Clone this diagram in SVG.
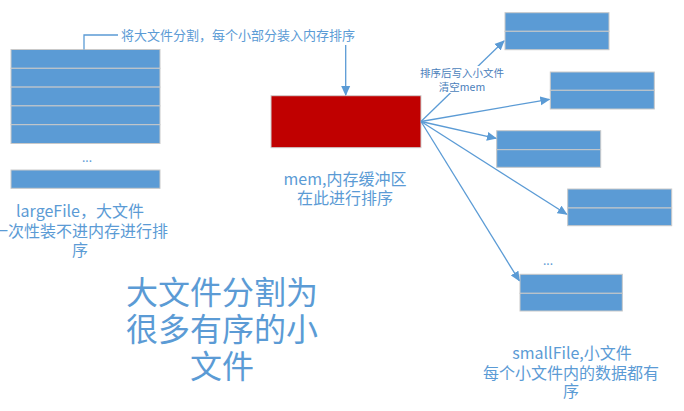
<svg xmlns="http://www.w3.org/2000/svg" width="684" height="411" viewBox="0 0 684 411">
<defs>
<style>
.blk{fill:#5B9BD5;stroke:#C9C9C9;stroke-width:1}
.mem{fill:#C00000;stroke:#D0D0D0;stroke-width:1}
.t{font-family:"Noto Sans CJK SC","Microsoft YaHei",sans-serif;fill:#5B9BD5;text-anchor:middle}
.lbl{font-family:"Noto Sans CJK SC",sans-serif;fill:#4A7EBB;text-anchor:middle;font-size:10.5px}
.con{fill:none;stroke:#5B9BD5;stroke-width:1.3}
</style>
<marker id="ah" markerUnits="userSpaceOnUse" markerWidth="10" markerHeight="10" refX="9" refY="5" orient="auto">
<path d="M0,0.5 L10,5 L0,9.5 z" fill="#5B9BD5"/>
</marker>
</defs>
<rect width="684" height="411" fill="#FFFFFF"/>

<g id="largeFile">
<rect class="blk" x="11" y="49.5" width="149" height="18.8"/>
<rect class="blk" x="11" y="68.3" width="149" height="18.8"/>
<rect class="blk" x="11" y="87.1" width="149" height="18.8"/>
<rect class="blk" x="11" y="105.9" width="149" height="18.8"/>
<rect class="blk" x="11" y="124.7" width="149" height="18.8"/>
<text class="t" x="87" y="162" font-size="12">...</text>
<rect class="blk" x="11" y="170" width="149" height="18.3"/>
<text class="t" x="80" y="216.5" font-size="16">largeFile，大文件</text>
<text class="t" x="80" y="237" font-size="16">一次性装不进内存进行排</text>
<text class="t" x="80" y="256" font-size="16">序</text>
</g>

<g id="mem">
<rect class="mem" x="271" y="95.7" width="150" height="52"/>
<text class="t" x="345" y="184.5" font-size="16">mem,内存缓冲区</text>
<text class="t" x="345" y="203.5" font-size="16">在此进行排序</text>
</g>

<g id="small1">
<rect class="blk" x="505" y="12.7" width="104" height="18.6"/>
<rect class="blk" x="505" y="31.3" width="104" height="18.4"/>
</g>
<g id="small2">
<rect class="blk" x="550.3" y="72" width="104" height="18.3"/>
<rect class="blk" x="550.3" y="90.3" width="104" height="18.7"/>
</g>
<g id="small3">
<rect class="blk" x="496.7" y="130.7" width="104" height="19"/>
<rect class="blk" x="496.7" y="149.7" width="104" height="17.6"/>
</g>
<g id="small4">
<rect class="blk" x="567.7" y="189" width="104" height="19"/>
<rect class="blk" x="567.7" y="208" width="104" height="17.7"/>
</g>
<g id="small5">
<rect class="blk" x="520" y="274.3" width="102.3" height="19"/>
<rect class="blk" x="520" y="293.3" width="102.3" height="17.7"/>
<text class="t" x="548" y="265" font-size="12">...</text>
</g>

<g id="smallText">
<text class="t" x="572" y="359" font-size="16">smallFile,小文件</text>
<text class="t" x="571" y="378.5" font-size="16">每个小文件内的数据都有</text>
<text class="t" x="571" y="397" font-size="16">序</text>
</g>

<g id="title">
<text class="t" x="222" y="304" font-size="32">大文件分割为</text>
<text class="t" x="222" y="341" font-size="32">很多有序的小</text>
<text class="t" x="222" y="378" font-size="32">文件</text>
</g>

<g id="connectors">
<polyline class="con" points="84,49.5 84,35 118,35" stroke-width="1.2"/>
<text class="t" x="238" y="39.5" font-size="13">将大文件分割，每个小部分装入内存排序</text>
<line class="con" x1="345.7" y1="45" x2="345.7" y2="95" marker-end="url(#ah)"/>
<line class="con" x1="421" y1="121.5" x2="504" y2="41" marker-end="url(#ah)"/>
<line class="con" x1="421" y1="121.5" x2="549.3" y2="99.3" marker-end="url(#ah)"/>
<line class="con" x1="421" y1="121.5" x2="496" y2="138.3" marker-end="url(#ah)"/>
<line class="con" x1="421" y1="121.5" x2="566.7" y2="214.3" marker-end="url(#ah)"/>
<line class="con" x1="421" y1="121.5" x2="519.3" y2="280.7" marker-end="url(#ah)"/>
<rect x="420" y="66" width="86" height="27" fill="#FFFFFF"/>
<text class="lbl" x="462" y="77">排序后写入小文件</text>
<text class="lbl" x="462" y="91">清空mem</text>
</g>
</svg>
